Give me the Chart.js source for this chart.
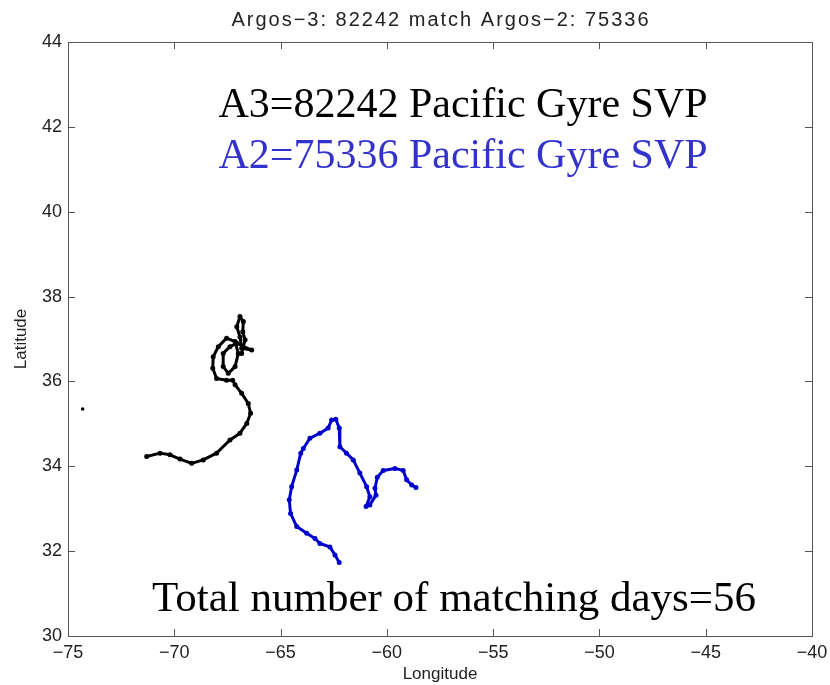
<!DOCTYPE html>
<html>
<head>
<meta charset="utf-8">
<script src="https://cdn.jsdelivr.net/npm/chart.js@4.4.1/dist/chart.umd.min.js"></script>
<style>
  html, body { margin: 0; padding: 0; background: #fff; }
  #wrap { width: 830px; height: 685px; }
</style>
</head>
<body>
<div id="wrap"><canvas id="mapa" width="830" height="685"></canvas></div>
<script>
// dados (longitude, latitude)
const a3Lon = [-71.30, -70.67, -70.20, -69.73, -69.18, -68.64, -68.01, -67.38, -66.91, -66.59, -66.41, -66.52, -66.83, -67.14, -67.25,
  -67.54, -68.01, -68.19, -68.17, -67.93, -67.54, -67.14, -66.99, -67.14, -67.46, -67.70, -67.70, -67.38, -67.06, -66.36,
  -66.83, -66.91, -67.06, -66.91, -66.75, -66.78, -66.67, -66.83];
const a3Lat = [34.23, 34.31, 34.27, 34.17, 34.07, 34.15, 34.31, 34.62, 34.78, 35.01, 35.25, 35.48, 35.72, 35.92, 36.03,
  36.03, 36.07, 36.31, 36.58, 36.82, 37.02, 36.94, 36.66, 36.35, 36.19, 36.35, 36.66, 36.82, 36.90, 36.74,
  36.78, 37.05, 37.29, 37.53, 37.41, 37.17, 36.98, 36.66];
const a3IsoladoLon = [-74.31];
const a3IsoladoLat = [35.35];

const a2Lon = [-62.24, -62.44, -62.68, -63.15, -63.38, -63.77, -64.24, -64.53, -64.59, -64.48, -64.24, -64.05, -63.93, -63.62,
  -63.15, -62.76, -62.60, -62.40, -62.24, -62.21, -61.90, -61.58, -61.27, -60.95, -60.80, -60.98, -60.80, -60.51,
  -60.56, -60.45, -60.17, -59.62, -59.23, -59.07, -58.83, -58.63];
const a2Lat = [31.73, 31.91, 32.10, 32.18, 32.30, 32.42, 32.58, 32.89, 33.21, 33.52, 33.91, 34.31, 34.42, 34.66,
  34.78, 34.90, 35.09, 35.11, 34.90, 34.46, 34.31, 34.15, 33.84, 33.52, 33.28, 33.05, 33.09, 33.32,
  33.48, 33.74, 33.90, 33.95, 33.90, 33.68, 33.56, 33.50];

const xTicks = [-75, -70, -65, -60, -55, -50, -45, -40];
const yTicks = [30, 32, 34, 36, 38, 40, 42, 44];

const titulo = 'Argos\u22123: 82242 match Argos\u22122: 75336';
const textoA3 = 'A3=82242 Pacific Gyre SVP';
const textoA2 = 'A2=75336 Pacific Gyre SVP';
const textoDias = 'Total number of matching days=56';

const pontos = (lon, lat) => lon.map((v, i) => ({ x: v, y: lat[i] }));
const menos = v => String(v).replace('-', '\u2212');

const fonteTicks = { family: 'Liberation Sans, Arial, sans-serif', size: 18 };
const fonteTitulos = { family: 'Liberation Sans, Arial, sans-serif', size: 17 };

// moldura estilo matlab com ticks para dentro + textos
const moldura = {
  id: 'moldura',
  afterDraw(chart) {
    const { ctx, chartArea: a, scales } = chart;
    ctx.save();
    ctx.strokeStyle = '#555';
    ctx.lineWidth = 1;
    ctx.strokeRect(a.left + 0.5, a.top + 0.5, a.right - a.left, a.bottom - a.top);
    ctx.beginPath();
    xTicks.forEach(t => {
      const px = Math.round(scales.x.getPixelForValue(t)) + 0.5;
      ctx.moveTo(px, a.bottom); ctx.lineTo(px, a.bottom - 7);
      ctx.moveTo(px, a.top); ctx.lineTo(px, a.top + 7);
    });
    yTicks.forEach(t => {
      const py = Math.round(scales.y.getPixelForValue(t)) + 0.5;
      ctx.moveTo(a.left, py); ctx.lineTo(a.left + 7, py);
      ctx.moveTo(a.right, py); ctx.lineTo(a.right - 7, py);
    });
    ctx.stroke();

    ctx.textAlign = 'center';
    ctx.textBaseline = 'alphabetic';
    ctx.fillStyle = '#222';
    ctx.font = '20px Liberation Sans, Arial, sans-serif';
    ctx.letterSpacing = '2px';
    ctx.fillText(titulo, (a.left + a.right) / 2 + 1, 26);
    ctx.letterSpacing = '0px';

    ctx.font = '42px Liberation Serif, Times New Roman, serif';
    ctx.fillStyle = '#000';
    ctx.fillText(textoA3, 463, 117);
    ctx.fillStyle = '#3333cc';
    ctx.fillText(textoA2, 463, 168);
    ctx.fillStyle = '#000';
    ctx.font = '43px Liberation Serif, Times New Roman, serif';
    ctx.fillText(textoDias, 454, 611);
    ctx.restore();
  }
};

new Chart(document.getElementById('mapa'), {
  type: 'scatter',
  data: {
    datasets: [
      {
        label: 'A3',
        data: pontos(a3Lon, a3Lat),
        showLine: true,
        borderColor: '#000',
        backgroundColor: '#000',
        borderWidth: 3,
        borderJoinStyle: 'round',
        pointRadius: 1,
        tension: 0
      },
      {
        label: 'A3 isolado',
        data: pontos(a3IsoladoLon, a3IsoladoLat),
        borderColor: '#000',
        backgroundColor: '#000',
        pointRadius: 1.8,
        borderWidth: 0
      },
      {
        label: 'A2',
        data: pontos(a2Lon, a2Lat),
        showLine: true,
        borderColor: '#0000cc',
        backgroundColor: '#0000cc',
        borderWidth: 3,
        borderJoinStyle: 'round',
        pointRadius: 1,
        tension: 0
      }
    ]
  },
  options: {
    responsive: false,
    animation: false,
    layout: { padding: { left: 0, right: 18, top: 42, bottom: 0 } },
    plugins: {
      legend: { display: false },
      tooltip: { enabled: false },
      title: { display: false }
    },
    scales: {
      x: {
        type: 'linear',
        min: -75,
        max: -40,
        afterBuildTicks: s => { s.ticks = xTicks.map(v => ({ value: v })); },
        afterFit: s => { s.height = 49; s.paddingLeft = 0; s.paddingRight = 0; },
        grid: { display: false, drawTicks: false },
        border: { display: false },
        ticks: { color: '#222', font: fonteTicks, padding: 6, maxRotation: 0, callback: v => menos(v) },
        title: { display: true, text: 'Longitude', color: '#222', font: fonteTitulos, padding: { top: 2, bottom: 0 } }
      },
      y: {
        type: 'linear',
        min: 30,
        max: 44,
        afterBuildTicks: s => { s.ticks = yTicks.map(v => ({ value: v })); },
        afterFit: s => { s.width = 68; s.paddingTop = 0; s.paddingBottom = 0; },
        grid: { display: false, drawTicks: false },
        border: { display: false },
        ticks: { color: '#222', font: fonteTicks, padding: 6, callback: v => menos(v) },
        title: { display: true, text: 'Latitude', color: '#222', font: fonteTitulos, padding: { top: 11, bottom: 0 } }
      }
    }
  },
  plugins: [moldura]
});
</script>
</body>
</html>
